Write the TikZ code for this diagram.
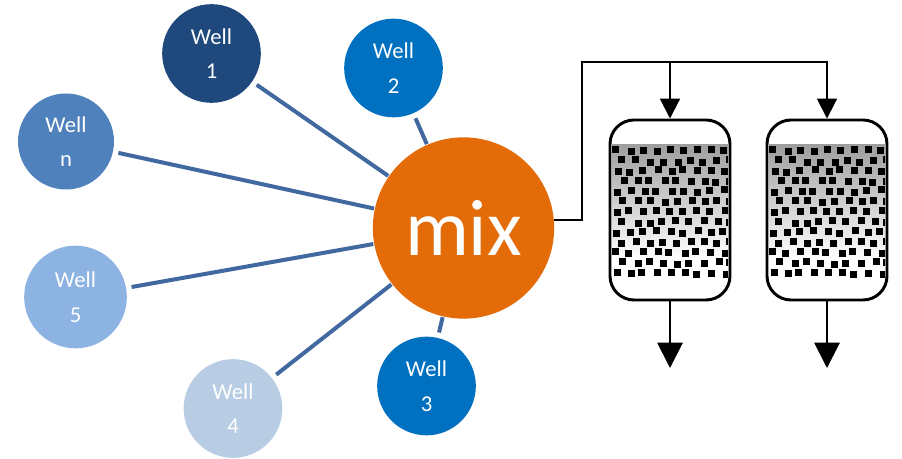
\documentclass[tikz,border=0pt]{standalone}
\usepackage{fontspec}
\setmainfont{Carlito}
\usetikzlibrary{arrows.meta}

\definecolor{wellone}{RGB}{31,73,125}
\definecolor{welltwo}{RGB}{0,112,192}
\definecolor{wellmid}{RGB}{79,129,189}
\definecolor{welllight}{RGB}{141,179,226}
\definecolor{wellpale}{RGB}{184,204,228}
\definecolor{mixorange}{RGB}{227,108,9}
\definecolor{spokeblue}{RGB}{65,105,160}

\tikzset{
  well/.style={circle,minimum size=74pt,inner sep=0pt,align=center,
    text=white,font=\fontsize{17}{26}\selectfont},
  spoke/.style={line width=3pt,draw=spokeblue,shorten <=4pt,shorten >=0.5pt},
  pipe/.style={line width=1.5pt,black},
  tank/.style={draw,rectangle,rounded corners=18pt,line width=2.2pt,
    minimum width=90pt,minimum height=135pt,inner sep=0pt},
}

\begin{document}
\begin{tikzpicture}[x=0.75pt,y=0.75pt,>={Triangle[width=15pt,length=15pt]}]
  \useasboundingbox (0,0) rectangle (902,459);

  % the wells around the mixing point
  \node[well,fill=wellone] (w1) at (211.5,405.5) {Well\\1};
  \node[well,fill=welltwo] (w2) at (393.5,391) {Well\\2};
  \node[well,fill=wellmid,minimum size=72pt] (wn) at (66,317.5) {Well\\n};
  \node[well,fill=welllight,minimum size=77pt] (w5) at (75.5,162) {Well\\5};
  \node[well,fill=wellpale] (w4) at (233,50.5) {Well\\4};
  \node[well,fill=welltwo] (w3) at (426.5,73) {Well\\3};
  \node[circle,fill=mixorange,minimum size=136pt,inner sep=0pt,text=white,
    font=\fontsize{60}{60}\selectfont] (mix) at (463.5,231) {mix};

  \foreach \w in {w1,w2,wn,w5,w4,w3}
    \draw[spoke] (\w) -- (mix);

  % two packed beds
  \foreach \t/\cx in {tank1/670,tank2/827}{
    \begin{scope}
      \clip (\cx-58,179) rectangle (\cx+58,314);
      \shade[top color=black!38,bottom color=white] (\cx-58,200) rectangle (\cx+58,314);
      \pgfmathsetseed{12}
      \foreach \r in {0,...,12}
        \foreach \c in {0,...,8}
          \fill ({\cx-59+2+\c*13.5+mod(\r,2)*6.5+2*rand},{305-\r*10.2+1.5*rand}) rectangle +(7,7);
    \end{scope}
    \node[tank] (\t) at (\cx,249) {};
    \coordinate (\t out) at (\cx,91);
    \draw[pipe,-{Triangle[width=19pt,length=19pt]}] (\t.south) -- (\t out);
  }

  % feed line
  \coordinate (split) at (582,397);
  \draw[pipe,->] (mix.5) -| (split) -| (tank2.north);
  \draw[pipe,->] (tank1.north |- split) -- (tank1.north);
\end{tikzpicture}
\end{document}
